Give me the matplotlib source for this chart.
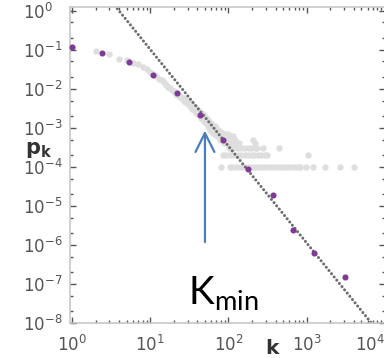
import matplotlib
matplotlib.use("Agg")
import matplotlib.pyplot as plt
import numpy as np

# raw degree distribution, N = 10^4 nodes (counts per degree k)
N_NODES = 10000
gray_k = [
    1, 2, 3, 4, 5, 6, 7, 8, 9, 10, 11, 12, 13, 14, 15, 16, 17, 18, 19, 20,
    21, 22, 23, 24, 25, 26, 27, 28, 29, 30, 31, 32, 33, 34, 35, 36, 37, 38, 39, 40,
    41, 42, 43, 44, 45, 46, 47, 48, 49, 50, 51, 52, 53, 54, 55, 56, 57, 58, 59, 60,
    61, 62, 63, 64, 65, 66, 67, 68, 69, 70, 71, 72, 73, 74, 75, 76, 77, 78, 79, 80,
    81, 82, 83,
    # 7/N .. 4/N
    89, 100, 88, 95, 105, 115, 85, 92, 99, 110, 120, 203, 87, 97, 109, 123, 137, 218,
    # 3/N row
    101, 114, 127, 142, 157, 175, 194, 215, 231, 274, 437,
    # 2/N row
    84, 94, 106, 118, 131, 146, 162, 180, 197, 212, 236, 262, 290, 307, 1050,
    # 1/N row
    103, 112, 125, 139, 151, 166, 185, 204, 226, 249, 276, 305, 338, 372, 412,
    455, 503, 556, 615, 680, 740, 811, 984, 1185, 1687, 2698, 4035,
]
gray_count = [
    1160, 900, 780, 590, 530, 450, 420, 370, 320, 276, 238, 210, 183, 163, 145, 125, 114, 102, 93, 86,
    80, 70, 71, 60, 62, 52, 57, 46, 51, 40, 46, 36, 41, 31, 37, 28, 34, 26, 31, 23,
    28, 21, 26, 18, 24, 17, 22, 15, 20, 14, 18, 13, 17, 11, 16, 10, 14, 9, 13, 10,
    12, 8, 11, 9, 10, 7, 11, 8, 10, 7, 9, 6, 8, 9, 6, 8, 5, 7, 6, 8,
    1, 5, 7,
    7, 7, 6, 6, 6, 6, 5, 5, 5, 5, 5, 5, 4, 4, 4, 4, 4, 4,
    3, 3, 3, 3, 3, 3, 3, 3, 3, 3, 3,
    2, 2, 2, 2, 2, 2, 2, 2, 2, 2, 2, 2, 2, 2, 2,
    1, 1, 1, 1, 1, 1, 1, 1, 1, 1, 1, 1, 1, 1, 1,
    1, 1, 1, 1, 1, 1, 1, 1, 1, 1, 1, 1,
]

# log-binned distribution
bin_k = [1, 2.44, 5.33, 10.8, 21.8, 43.8, 86, 177, 366, 665, 1233, 3126]
bin_pk = [0.116, 0.084, 0.0495, 0.0222, 0.0079, 0.00213, 5.0e-4, 8.8e-5,
          1.93e-5, 2.48e-6, 6.2e-7, 1.55e-7]

# power-law fit (end points of the dotted line)
fit_k = [2, 1e4]
fit_pk = [5.5, 3.7e-9]

k_min = 50

x_ticks = [1, 10, 100, 1000, 10000]
x_tick_labels = [r"$\mathregular{10^{0}}$", r"$\mathregular{10^{1}}$",
                 r"$\mathregular{10^{2}}$", r"$\mathregular{10^{3}}$",
                 r"$\mathregular{10^{4}}$"]
y_ticks = [1, 1e-1, 1e-2, 1e-3, 1e-4, 1e-5, 1e-6, 1e-7, 1e-8]
y_tick_labels = [r"$\mathregular{10^{%d}}$" % e for e in range(0, -9, -1)]

GRAY = "#dedede"
PURPLE = "#7e3a94"
BLUE = "#4a7ebb"
SPINE = "#c4c4c4"
TICK = "#555555"

fig = plt.figure(figsize=(3.84, 3.58), dpi=100)
ax = fig.add_axes([70 / 384, 35 / 358, 315 / 384, 316 / 358])

gray_pk = np.array(gray_count) / N_NODES
ax.plot(gray_k, gray_pk, "o", color=GRAY, ms=4.6, mew=0, zorder=1)
ax.plot(fit_k, fit_pk, color="#6e6e6e", lw=2.2, linestyle=(0, (0.01, 1.35)),
        dash_capstyle="round", zorder=2)
ax.plot(bin_k, bin_pk, "o", color=PURPLE, ms=4.4, mew=0, zorder=3, clip_on=False)

ax.set_xscale("log")
ax.set_yscale("log")
ax.set_xlim(10 ** -0.0255, 1e4)
ax.set_ylim(10 ** -7.947, 10 ** 0.094)

ax.set_xticks(x_ticks, x_tick_labels)
ax.set_yticks(y_ticks, y_tick_labels)
ax.xaxis.set_minor_locator(matplotlib.ticker.LogLocator(base=10, subs=np.arange(2, 10), numticks=20))
ax.yaxis.set_minor_locator(matplotlib.ticker.LogLocator(base=10, subs=(2, 5), numticks=20))
ax.yaxis.set_minor_formatter(matplotlib.ticker.NullFormatter())
ax.xaxis.set_minor_formatter(matplotlib.ticker.NullFormatter())

ax.tick_params(which="both", direction="in", top=True, right=True, color=TICK, width=1.0)
ax.tick_params(which="major", length=4.5)
ax.tick_params(which="minor", length=2.5)
ax.tick_params(axis="x", labelsize=12, labelcolor="#555555", pad=8.5)
ax.tick_params(axis="y", labelsize=12, labelcolor="#555555", pad=34)
for lab in ax.get_yticklabels():
    lab.set_ha("left")
ax.get_xticklabels()[-1].set_ha("right")

for sp in ax.spines.values():
    sp.set_color(SPINE)
    sp.set_linewidth(1.1)

fig.text(272 / 384, 1 - 339 / 358, "k", fontsize=14.5, fontweight="bold",
         color="#333333", ha="center", va="top")
fig.text(25 / 384, 1 - 150 / 358, r"$\mathbf{p_k}$", fontsize=15,
         color="#333333", ha="left", va="center")

ax.annotate("", xy=(k_min, 1e-3), xytext=(k_min, 1e-6),
            arrowprops=dict(arrowstyle="->,head_length=0.4,head_width=0.2",
                            mutation_scale=34, color=BLUE, lw=1.6))
ax.text(30.4, 2.9e-8, r"K$_{\mathregular{min}}$", fontsize=28, family="Lato",
        color="black", ha="left", va="baseline")

fig.savefig("out.png", dpi=100)
